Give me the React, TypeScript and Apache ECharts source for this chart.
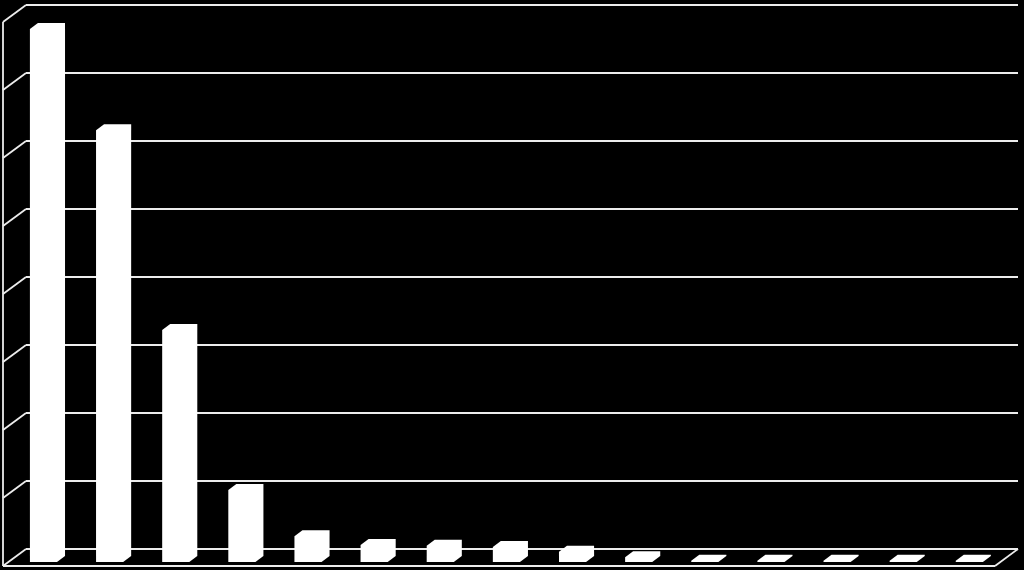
import React, { useEffect, useRef } from "react";
import * as echarts from "echarts";

// values (no labels are shown on the chart)
const categories = ["1", "2", "3", "4", "5", "6", "7", "8", "9", "10", "11", "12", "13", "14", "15"];
const values = [7.84, 6.35, 3.41, 1.06, 0.38, 0.25, 0.24, 0.22, 0.15, 0.07, 0.02, 0.02, 0.02, 0.02, 0.02];
const yTicks = [0, 1, 2, 3, 4, 5, 6, 7, 8];

const LINE = "#ececec";
// floor depth (back wall -> front edge) and bar placement in depth
const FLOOR_DX = -23;
const FLOOR_DY = 17;
const BAR_OX = -15.6;
const BAR_OY = 13;
const BAR_DX = 8;
const BAR_DY = -6;

const App: React.FC = () => {
  const chartRef = useRef<HTMLDivElement>(null);

  useEffect(() => {
    if (!chartRef.current) return;
    const chart = echarts.init(chartRef.current, undefined, { renderer: "svg" });

    const options = {
      animation: false,
      backgroundColor: "#000",
      grid: { left: 26, right: 6, top: 5, bottom: 21 },
      xAxis: {
        type: "category",
        data: categories,
        axisLine: { show: false },
        axisTick: { show: false },
        axisLabel: { show: false },
      },
      yAxis: {
        type: "value",
        min: yTicks[0],
        max: yTicks[yTicks.length - 1],
        interval: 1,
        axisLine: { show: false },
        axisTick: { show: false },
        axisLabel: { show: false },
        splitLine: { lineStyle: { color: LINE, width: 1.8 } },
      },
      series: [
        {
          type: "custom",
          data: values.map((v, i) => [i, v]),
          renderItem: (params: any, api: any) => {
            const v = api.value(1);
            const base = api.coord([api.value(0), 0]);
            const top = api.coord([api.value(0), v]);
            const band = api.size([1, 0])[0];
            const w = band * 0.41;
            const cx = base[0] + BAR_OX;
            const x0 = cx - w / 2;
            const x1 = cx + w / 2;
            const yb = base[1] + BAR_OY;
            const yt = top[1] + BAR_OY;
            return {
              type: "polygon",
              shape: {
                points: [
                  [x0, yb],
                  [x1, yb],
                  [x1 + BAR_DX, yb + BAR_DY],
                  [x1 + BAR_DX, yt + BAR_DY],
                  [x0 + BAR_DX, yt + BAR_DY],
                  [x0, yt],
                ],
              },
              style: { fill: "#fff" },
            };
          },
        },
      ],
    };

    chart.setOption(options);

    // side wall and floor edges, placed from the axis ticks
    const gx0 = chart.convertToPixel({ xAxisIndex: 0 }, categories[0]) as number;
    const band = (chart.convertToPixel({ xAxisIndex: 0 }, categories[1]) as number) - gx0;
    const left = gx0 - band / 2;
    const right = left + band * categories.length;
    const y0 = chart.convertToPixel({ yAxisIndex: 0 }, yTicks[0]) as number;
    const yTop = chart.convertToPixel({ yAxisIndex: 0 }, yTicks[yTicks.length - 1]) as number;
    const style = { stroke: LINE, lineWidth: 1.8 };
    const graphic: any[] = yTicks.map((t) => {
      const y = chart.convertToPixel({ yAxisIndex: 0 }, t) as number;
      return {
        type: "line",
        shape: { x1: left + FLOOR_DX, y1: y + FLOOR_DY, x2: left, y2: y },
        style,
      };
    });
    graphic.push(
      {
        type: "line",
        shape: { x1: left + FLOOR_DX, y1: yTop + FLOOR_DY, x2: left + FLOOR_DX, y2: y0 + FLOOR_DY },
        style,
      },
      {
        type: "line",
        shape: { x1: left + FLOOR_DX, y1: y0 + FLOOR_DY, x2: right + FLOOR_DX, y2: y0 + FLOOR_DY },
        style,
      },
      {
        type: "line",
        shape: { x1: right + FLOOR_DX, y1: y0 + FLOOR_DY, x2: right, y2: y0 },
        style,
      }
    );
    chart.setOption({ graphic });

    return () => {
      chart.dispose();
    };
  }, []);

  return (
    <div
      ref={chartRef}
      style={{ position: "fixed", left: 0, top: 0, width: "1024px", height: "570px" }}
    />
  );
};

export default App;
